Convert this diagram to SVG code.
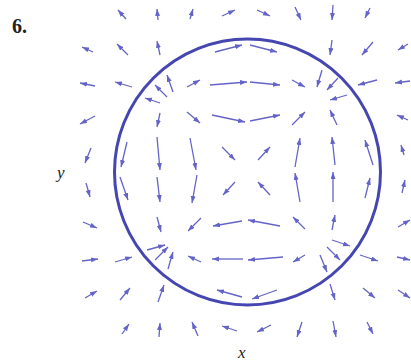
<svg xmlns="http://www.w3.org/2000/svg" width="411" height="364" viewBox="0 0 411 364">
<defs>
<marker id="ah" markerUnits="userSpaceOnUse" markerWidth="8" markerHeight="6" refX="7" refY="2.5" orient="auto">
<path d="M0,0 L7,2.5 L0,5 z" fill="#6464c8"/>
</marker>
<style>
.a{stroke:#6464c8;stroke-width:1.3;fill:none;marker-end:url(#ah)}
.lbl{font-family:"Liberation Serif","Times New Roman",serif;fill:#222}
</style>
</defs>
<rect width="411" height="364" fill="#fff"/>
<text class="lbl" x="12" y="33" font-size="20" font-weight="bold">6.</text>
<text class="lbl" x="57" y="178" font-size="17" font-style="italic">y</text>
<text class="lbl" x="238" y="358" font-size="17" font-style="italic">x</text>
<circle id="curve" cx="247.5" cy="172" r="133" fill="none" stroke="#4646b0" stroke-width="3"/>
<g id="field">
<line class="a" x1="126" y1="19" x2="118" y2="10"/>
<line class="a" x1="158" y1="20" x2="157" y2="9"/>
<line class="a" x1="190" y1="19" x2="193" y2="9"/>
<line class="a" x1="222" y1="16" x2="235" y2="10"/>
<line class="a" x1="257" y1="10" x2="270" y2="16"/>
<line class="a" x1="295" y1="7" x2="301" y2="20"/>
<line class="a" x1="333" y1="5" x2="332" y2="20"/>
<line class="a" x1="370" y1="8" x2="365" y2="18"/>
<line class="a" x1="93" y1="52" x2="82" y2="47"/>
<line class="a" x1="128" y1="55" x2="117" y2="44"/>
<line class="a" x1="160" y1="55" x2="157" y2="41"/>
<line class="a" x1="215" y1="52" x2="242" y2="45"/>
<line class="a" x1="250" y1="45" x2="277" y2="52"/>
<line class="a" x1="332" y1="40" x2="330" y2="55"/>
<line class="a" x1="373" y1="42" x2="362" y2="55"/>
<line class="a" x1="408" y1="44" x2="398" y2="50"/>
<line class="a" x1="95" y1="86" x2="80" y2="83"/>
<line class="a" x1="132" y1="87" x2="115" y2="82"/>
<line class="a" x1="173" y1="92" x2="167" y2="75"/>
<line class="a" x1="167" y1="97" x2="155" y2="85"/>
<line class="a" x1="160" y1="103" x2="145" y2="98"/>
<line class="a" x1="187" y1="87" x2="200" y2="80"/>
<line class="a" x1="210" y1="85" x2="247" y2="82"/>
<line class="a" x1="250" y1="82" x2="280" y2="85"/>
<line class="a" x1="292" y1="80" x2="305" y2="87"/>
<line class="a" x1="322" y1="70" x2="317" y2="87"/>
<line class="a" x1="338" y1="78" x2="327" y2="90"/>
<line class="a" x1="347" y1="95" x2="330" y2="100"/>
<line class="a" x1="377" y1="80" x2="358" y2="85"/>
<line class="a" x1="410" y1="81" x2="395" y2="83"/>
<line class="a" x1="95" y1="116" x2="80" y2="124"/>
<line class="a" x1="160" y1="113" x2="157" y2="127"/>
<line class="a" x1="187" y1="112" x2="200" y2="123"/>
<line class="a" x1="212" y1="115" x2="245" y2="122"/>
<line class="a" x1="250" y1="121" x2="280" y2="115"/>
<line class="a" x1="292" y1="125" x2="305" y2="112"/>
<line class="a" x1="337" y1="125" x2="330" y2="110"/>
<line class="a" x1="408" y1="120" x2="397" y2="115"/>
<line class="a" x1="91" y1="148" x2="85" y2="163"/>
<line class="a" x1="127" y1="142" x2="121" y2="167"/>
<line class="a" x1="157" y1="137" x2="160" y2="170"/>
<line class="a" x1="190" y1="138" x2="196" y2="170"/>
<line class="a" x1="222" y1="147" x2="235" y2="160"/>
<line class="a" x1="258" y1="160" x2="270" y2="147"/>
<line class="a" x1="295" y1="167" x2="300" y2="138"/>
<line class="a" x1="335" y1="165" x2="332" y2="137"/>
<line class="a" x1="373" y1="165" x2="365" y2="140"/>
<line class="a" x1="404" y1="155" x2="401" y2="145"/>
<line class="a" x1="86" y1="183" x2="90" y2="197"/>
<line class="a" x1="120" y1="177" x2="128" y2="200"/>
<line class="a" x1="157" y1="177" x2="160" y2="202"/>
<line class="a" x1="197" y1="175" x2="192" y2="203"/>
<line class="a" x1="235" y1="182" x2="223" y2="195"/>
<line class="a" x1="270" y1="195" x2="258" y2="182"/>
<line class="a" x1="300" y1="202" x2="295" y2="173"/>
<line class="a" x1="333" y1="202" x2="333" y2="172"/>
<line class="a" x1="365" y1="198" x2="370" y2="178"/>
<line class="a" x1="402" y1="193" x2="405" y2="180"/>
<line class="a" x1="83" y1="222" x2="97" y2="228"/>
<line class="a" x1="157" y1="217" x2="161" y2="232"/>
<line class="a" x1="201" y1="218" x2="188" y2="231"/>
<line class="a" x1="242" y1="221" x2="213" y2="226"/>
<line class="a" x1="280" y1="226" x2="248" y2="220"/>
<line class="a" x1="305" y1="229" x2="293" y2="217"/>
<line class="a" x1="332" y1="230" x2="335" y2="215"/>
<line class="a" x1="398" y1="227" x2="410" y2="220"/>
<line class="a" x1="332" y1="240" x2="350" y2="246"/>
<line class="a" x1="327" y1="247" x2="340" y2="260"/>
<line class="a" x1="320" y1="255" x2="327" y2="272"/>
<line class="a" x1="82" y1="261" x2="98" y2="259"/>
<line class="a" x1="115" y1="262" x2="132" y2="257"/>
<line class="a" x1="147" y1="250" x2="165" y2="245"/>
<line class="a" x1="155" y1="260" x2="168" y2="247"/>
<line class="a" x1="168" y1="269" x2="173" y2="252"/>
<line class="a" x1="201" y1="262" x2="188" y2="256"/>
<line class="a" x1="243" y1="259" x2="212" y2="259"/>
<line class="a" x1="283" y1="257" x2="248" y2="260"/>
<line class="a" x1="305" y1="255" x2="293" y2="262"/>
<line class="a" x1="360" y1="255" x2="378" y2="261"/>
<line class="a" x1="397" y1="257" x2="410" y2="260"/>
<line class="a" x1="85" y1="298" x2="97" y2="291"/>
<line class="a" x1="120" y1="300" x2="130" y2="288"/>
<line class="a" x1="158" y1="302" x2="164" y2="285"/>
<line class="a" x1="242" y1="297" x2="217" y2="290"/>
<line class="a" x1="277" y1="290" x2="252" y2="299"/>
<line class="a" x1="330" y1="284" x2="335" y2="300"/>
<line class="a" x1="363" y1="288" x2="375" y2="298"/>
<line class="a" x1="398" y1="290" x2="410" y2="298"/>
<line class="a" x1="122" y1="334" x2="129" y2="324"/>
<line class="a" x1="159" y1="337" x2="160" y2="323"/>
<line class="a" x1="198" y1="336" x2="192" y2="322"/>
<line class="a" x1="237" y1="331" x2="222" y2="326"/>
<line class="a" x1="271" y1="325" x2="257" y2="332"/>
<line class="a" x1="302" y1="322" x2="297" y2="337"/>
<line class="a" x1="333" y1="321" x2="336" y2="337"/>
<line class="a" x1="367" y1="322" x2="373" y2="334"/>
</g>
</svg>
